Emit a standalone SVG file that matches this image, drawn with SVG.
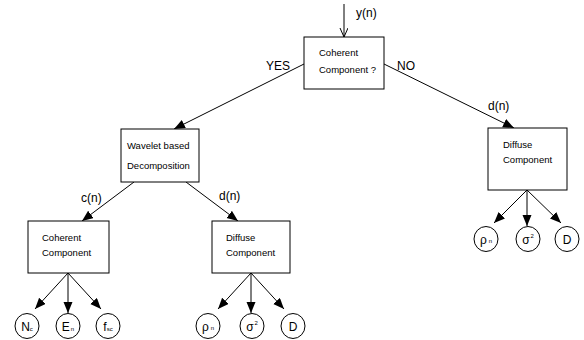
<svg xmlns="http://www.w3.org/2000/svg" width="584" height="340" viewBox="0 0 584 340">
<style>
.box{fill:#fff;stroke:#000;stroke-width:1}
.c{fill:#fff;stroke:#000;stroke-width:1}
.ln{stroke:#000;stroke-width:1;fill:none}
.t{font-family:"Liberation Sans",Arial,sans-serif;font-size:9.5px;fill:#000}
.lb{font-family:"Liberation Sans",Arial,sans-serif;font-size:12px;fill:#000}
.sym{font-family:"Liberation Sans",Arial,sans-serif;font-size:12px;fill:#000;text-anchor:middle}
.sub{font-size:6px}
</style>
<defs>
<marker id="ah" markerUnits="userSpaceOnUse" markerWidth="12" markerHeight="10" refX="11" refY="4.5" orient="auto">
<path d="M0,0 L11,4.5 L0,9 z" fill="#000"/>
</marker>
<marker id="open" markerUnits="userSpaceOnUse" markerWidth="10" markerHeight="10" refX="9" refY="4" orient="auto">
<path d="M0,0 L9,4 L0,8" fill="none" stroke="#000" stroke-width="1"/>
</marker>
</defs>
<g id="connectors">
<line class="ln" x1="344" y1="4" x2="344" y2="37" marker-end="url(#open)"/>
<line class="ln" x1="304" y1="64" x2="174" y2="129" marker-end="url(#ah)"/>
<line class="ln" x1="384" y1="64" x2="514" y2="128" marker-end="url(#ah)"/>
<line class="ln" x1="134" y1="182" x2="82" y2="221" marker-end="url(#ah)"/>
<line class="ln" x1="186" y1="182" x2="238" y2="221" marker-end="url(#ah)"/>
<line class="ln" x1="68" y1="273" x2="35" y2="309" marker-end="url(#ah)"/>
<line class="ln" x1="68" y1="273" x2="68" y2="313" marker-end="url(#ah)"/>
<line class="ln" x1="68" y1="273" x2="101" y2="309" marker-end="url(#ah)"/>
<line class="ln" x1="251" y1="273" x2="218" y2="309" marker-end="url(#ah)"/>
<line class="ln" x1="251" y1="273" x2="251" y2="313" marker-end="url(#ah)"/>
<line class="ln" x1="251" y1="273" x2="284" y2="309" marker-end="url(#ah)"/>
<line class="ln" x1="527" y1="190" x2="494" y2="223" marker-end="url(#ah)"/>
<line class="ln" x1="527" y1="190" x2="527" y2="226" marker-end="url(#ah)"/>
<line class="ln" x1="527" y1="190" x2="561" y2="223" marker-end="url(#ah)"/>
<text class="lb" x="356" y="17">y(n)</text>
<text class="lb" x="266" y="70">YES</text>
<text class="lb" x="397" y="70">NO</text>
<text class="lb" x="488" y="110">d(n)</text>
<text class="lb" x="81" y="202">c(n)</text>
<text class="lb" x="219" y="200">d(n)</text>
</g>
<g id="n_coherent_q">
<rect class="box" x="304" y="37" width="80" height="52"/>
<text class="t" x="319" y="56">Coherent</text>
<text class="t" x="319" y="73">Component ?</text>
</g>
<g id="n_wavelet">
<rect class="box" x="121" y="129" width="78" height="53"/>
<text class="t" x="127" y="149">Wavelet based</text>
<text class="t" x="127" y="169">Decomposition</text>
</g>
<g id="n_coherent">
<rect class="box" x="28" y="221" width="81" height="52"/>
<text class="t" x="42" y="241">Coherent</text>
<text class="t" x="42" y="256">Component</text>
</g>
<g id="n_diffuse1">
<rect class="box" x="212" y="221" width="78" height="52"/>
<text class="t" x="226" y="241">Diffuse</text>
<text class="t" x="226" y="256">Component</text>
</g>
<g id="n_diffuse2">
<rect class="box" x="488" y="128" width="79" height="62"/>
<text class="t" x="503" y="148">Diffuse</text>
<text class="t" x="503" y="163">Component</text>
</g>
<g id="c_Nc"><ellipse class="c" cx="27" cy="326" rx="12" ry="12.5"/><text class="sym" x="27" y="330.5">N<tspan class="sub">c</tspan></text></g>
<g id="c_En"><ellipse class="c" cx="68" cy="326" rx="12" ry="12.5"/><text class="sym" x="68" y="330.5">E<tspan class="sub" dx="1">n</tspan></text></g>
<g id="c_fsc"><ellipse class="c" cx="108" cy="326" rx="12" ry="12.5"/><text class="sym" x="108" y="330.5">f<tspan class="sub">sc</tspan></text></g>
<g id="c_rho1"><ellipse class="c" cx="208" cy="326" rx="12" ry="12.5"/><text class="sym" x="208" y="330.5">ρ<tspan class="sub" dx="2" dy="-1">n</tspan></text></g>
<g id="c_sig1"><ellipse class="c" cx="252" cy="326" rx="12" ry="12.5"/><text class="sym" x="252" y="330.5">σ<tspan class="sub" dx="1" dy="-6">2</tspan></text></g>
<g id="c_D1"><ellipse class="c" cx="293" cy="326" rx="12" ry="12.5"/><text class="sym" x="293" y="330.5">D</text></g>
<g id="c_rho2"><ellipse class="c" cx="486" cy="239" rx="12" ry="12.5"/><text class="sym" x="486" y="243.5">ρ<tspan class="sub" dx="2" dy="-1">n</tspan></text></g>
<g id="c_sig2"><ellipse class="c" cx="528" cy="239" rx="12" ry="12.5"/><text class="sym" x="528" y="243.5">σ<tspan class="sub" dx="1" dy="-6">2</tspan></text></g>
<g id="c_D2"><ellipse class="c" cx="567" cy="239" rx="12" ry="12.5"/><text class="sym" x="567" y="243.5">D</text></g>
</svg>
